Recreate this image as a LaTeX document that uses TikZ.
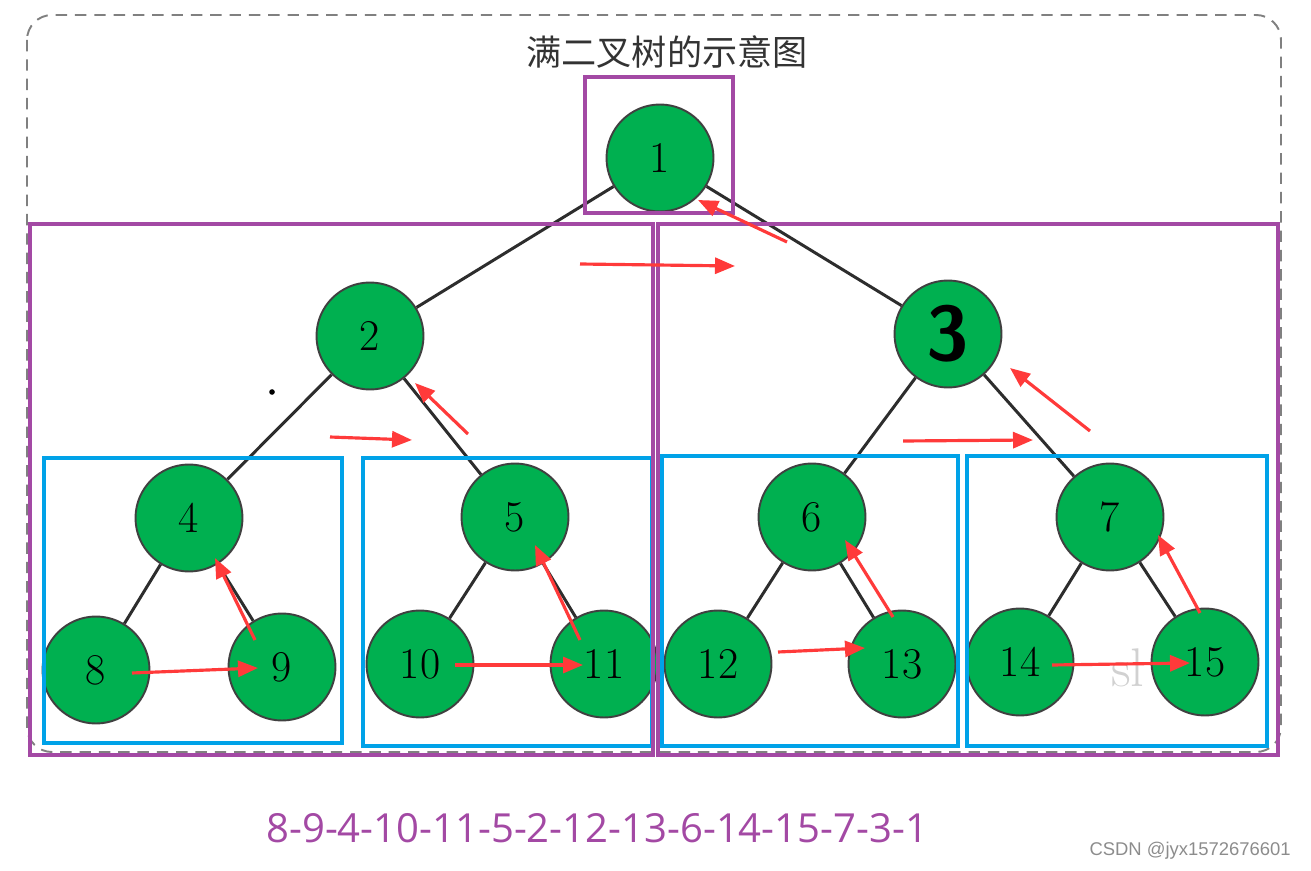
\documentclass[tikz,border=0pt]{standalone}
\usepackage{fontspec}
\usetikzlibrary{arrows.meta,calc}
\newfontfamily\cjkfont{Noto Sans CJK SC}
\newfontfamily\seqfont{Open Sans}
\newfontfamily\markfont{Liberation Sans}
\definecolor{treegreen}{RGB}{0,176,80}
\definecolor{boxpurple}{RGB}{163,73,164}
\definecolor{boxblue}{RGB}{0,162,232}
\definecolor{arrred}{RGB}{255,58,58}
\definecolor{edgegray}{RGB}{45,45,45}

\begin{document}
\begin{tikzpicture}[x=0.02cm,y=-0.02cm,
    tnode/.style={circle,draw=black!75,line width=1.1pt,fill=treegreen,minimum size=2.14cm,inner sep=0pt,font=\fontsize{25}{25}\selectfont},
    tedge/.style={edgegray,line width=1.7pt},
    pbox/.style={draw=boxpurple,line width=2.2pt},
    bbox/.style={draw=boxblue,line width=2.2pt},
    redarr/.style={arrred,line width=1.8pt,-{Triangle[length=0.4cm,width=0.32cm]}}]
    \useasboundingbox (0,0) rectangle (1311,871);
    % frame and title
    \draw[gray,line width=1.1pt,dash pattern=on 6.5pt off 4.5pt,rounded corners=0.5cm] (27,15) rectangle (1281,752);
    \node[text=black!80,font=\cjkfont\fontsize{20}{20}\selectfont] (title) at (667,52) {满二叉树的示意图};
    \node[text=black!18,font=\fontsize{31}{31}\selectfont] (wm) at (1128,668) {sl};
    \fill (272,392) circle (1.6pt);
    % tree
    \node[tnode] (n1) at (660,158) {1};
    \node[tnode] (n2) at (370,336) {2};
    \node[tnode,font=\fontsize{44}{44}\sffamily\bfseries] (n3) at (948,334) {3};
    \node[tnode] (n4) at (189,518) {4};
    \node[tnode] (n5) at (515,517) {5};
    \node[tnode] (n6) at (812,517) {6};
    \node[tnode] (n7) at (1110,517) {7};
    \node[tnode] (n8) at (96,670) {8};
    \node[tnode] (n9) at (282,667) {9};
    \node[tnode] (n10) at (420,664) {10};
    \node[tnode] (n11) at (604,664) {11};
    \node[tnode] (n12) at (718,664) {12};
    \node[tnode] (n13) at (902,664) {13};
    \node[tnode] (n14) at (1020,662) {14};
    \node[tnode] (n15) at (1205,662) {15};
    \draw[tedge] (n1)--(n2); \draw[tedge] (n1)--(n3);
    \draw[tedge] (n2)--(n4); \draw[tedge] (n2)--(n5); \draw[tedge] (n3)--(n6); \draw[tedge] (n3)--(n7);
    \draw[tedge] (n4)--(n8); \draw[tedge] (n4)--(n9); \draw[tedge] (n5)--(n10); \draw[tedge] (n5)--(n11);
    \draw[tedge] (n6)--(n12); \draw[tedge] (n6)--(n13); \draw[tedge] (n7)--(n14); \draw[tedge] (n7)--(n15);
    % subtree boxes
    \draw[bbox] (44,458) rectangle (342,743);
    \draw[bbox] (363,458) rectangle (652,746);
    \draw[bbox] (662,456) rectangle (958,746);
    \draw[bbox] (967,456) rectangle (1267,746);
    \draw[pbox] (585,77) rectangle (733,213);
    \draw[pbox] (30,224) rectangle (653,755);
    \draw[pbox] (658,224) rectangle (1278,755);
    % visiting order
    \coordinate (l2s) at (330,437); \coordinate (l2e) at (412,440);
    \coordinate (r2s) at (903,441); \coordinate (r2e) at (1033,440);
    \coordinate (tops) at (580,264); \coordinate (tope) at (735,266);
    \coordinate (ups) at (787,242);
    \draw[redarr] ($(n8)+(36,3)$) -- ($(n9)+(-24,1)$);
    \draw[redarr] ($(n9)+(-27,-27)$) -- ($(n4)+(26,40)$);
    \draw[redarr] ($(n10)+(35,1)$) -- ($(n11)+(-21,1)$);
    \draw[redarr] ($(n11)+(-24,-24)$) -- ($(n5)+(20,28)$);
    \draw[redarr] ($(n12)+(60,-12)$) -- ($(n13)+(-37,-16)$);
    \draw[redarr] ($(n13)+(-9,-47)$) -- ($(n6)+(33,23)$);
    \draw[redarr] ($(n14)+(32,3)$) -- ($(n15)+(-15,1)$);
    \draw[redarr] ($(n15)+(-5,-49)$) -- ($(n7)+(48,18)$);
    \draw[redarr] (l2s) -- (l2e);
    \draw[redarr] ($(n5)+(-47,-83)$) -- ($(n2)+(45,47)$);
    \draw[redarr] (r2s) -- (r2e);
    \draw[redarr] ($(n7)+(-20,-86)$) -- ($(n3)+(62,34)$);
    \draw[redarr] (tops) -- (tope);
    \draw[redarr] (ups) -- ($(n1)+(38,42)$);
    % sequence
    \node[text=boxpurple,font=\seqfont\fontsize{22.8}{22.8}\selectfont] (seq) at (597,828) {8-9-4-10-11-5-2-12-13-6-14-15-7-3-1};
    \node[anchor=east,text=black!45,font=\markfont\fontsize{10.5}{10.5}\selectfont] (csdn) at (1297,851) {CSDN @jyx1572676601};
  \end{tikzpicture}
\end{document}
